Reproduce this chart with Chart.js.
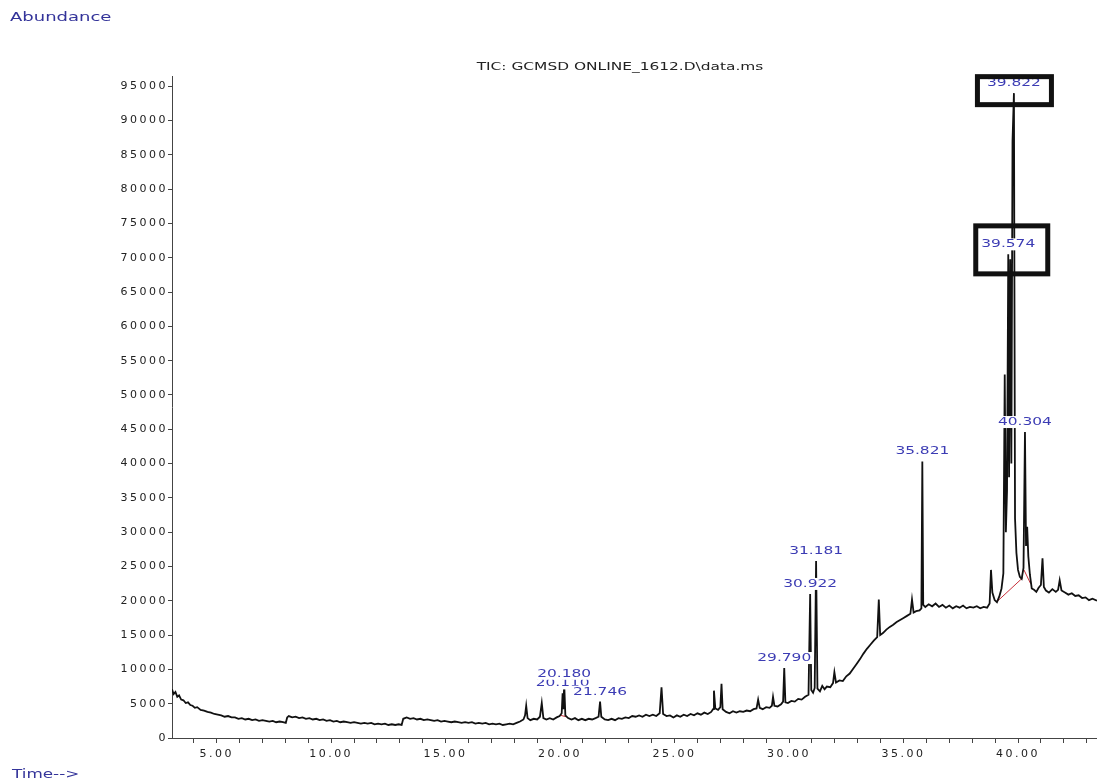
<!DOCTYPE html>
<html>
<head>
<meta charset="utf-8">
<script src="https://cdn.jsdelivr.net/npm/chart.js@4.4.1/dist/chart.umd.min.js"></script>
<style>
  html, body { margin: 0; padding: 0; background: #fff; }
</style>
</head>
<body>
<canvas id="tic" width="1097" height="784"></canvas>
<script>
// retention time (min) and abundance
const times = [
  3.05,3.12,3.2,3.28,3.36,3.45,3.55,3.65,3.75,3.85,
  3.95,4.05,4.15,4.3,4.45,4.6,4.75,4.9,5.05,5.2,
  5.35,5.5,5.65,5.8,5.95,6.1,6.25,6.4,6.55,6.7,
  6.85,7.0,7.15,7.3,7.45,7.6,7.75,7.9,8.02,8.08,
  8.15,8.3,8.45,8.6,8.75,8.9,9.05,9.2,9.35,9.5,
  9.65,9.8,9.95,10.1,10.25,10.4,10.55,10.7,10.85,11.0,
  11.15,11.3,11.45,11.6,11.75,11.9,12.05,12.2,12.35,12.5,
  12.65,12.8,12.95,13.08,13.15,13.3,13.45,13.6,13.75,13.9,
  14.05,14.2,14.35,14.5,14.65,14.8,14.95,15.1,15.25,15.4,
  15.55,15.7,15.85,16.0,16.15,16.3,16.45,16.6,16.75,16.9,
  17.05,17.2,17.35,17.5,17.65,17.8,17.95,18.1,18.25,18.4,
  18.47,18.52,18.58,18.7,18.85,19.0,19.12,19.2,19.27,19.4,
  19.55,19.7,19.85,19.98,20.07,20.11,20.14,20.18,20.23,20.35,
  20.5,20.65,20.8,20.95,21.1,21.25,21.4,21.55,21.68,21.746,
  21.8,21.95,22.1,22.25,22.4,22.55,22.7,22.85,23.0,23.15,
  23.3,23.45,23.6,23.75,23.9,24.05,24.2,24.35,24.43,24.5,
  24.65,24.8,24.95,25.1,25.25,25.4,25.55,25.7,25.85,26.0,
  26.15,26.3,26.45,26.6,26.68,26.72,26.78,26.9,27.0,27.05,
  27.1,27.25,27.4,27.55,27.7,27.85,28.0,28.15,28.3,28.45,
  28.58,28.65,28.72,28.85,29.0,29.15,29.25,29.3,29.36,29.5,
  29.65,29.74,29.79,29.84,29.95,30.1,30.25,30.4,30.55,30.7,
  30.85,30.922,30.97,31.05,31.12,31.181,31.24,31.35,31.45,31.55,
  31.65,31.8,31.92,31.98,32.05,32.2,32.35,32.5,32.65,32.8,
  32.95,33.1,33.25,33.4,33.55,33.7,33.85,33.92,33.98,34.1,
  34.25,34.4,34.55,34.7,34.85,35.0,35.15,35.3,35.37,35.44,
  35.55,35.7,35.78,35.821,35.86,35.95,36.1,36.25,36.4,36.55,
  36.7,36.85,37.0,37.15,37.3,37.45,37.6,37.75,37.9,38.05,
  38.2,38.35,38.5,38.65,38.76,38.82,38.88,38.98,39.08,39.18,
  39.28,39.36,39.42,39.47,39.52,39.574,39.61,39.66,39.71,39.76,
  39.822,39.87,39.93,40.0,40.08,40.16,40.24,40.304,40.35,40.4,
  40.45,40.52,40.6,40.7,40.8,40.9,41.0,41.07,41.13,41.22,
  41.35,41.5,41.65,41.75,41.82,41.9,42.05,42.2,42.35,42.5,
  42.65,42.8,42.95,43.1,43.25,43.45
];
const abundance = [
  7100,6400,6700,6000,6200,5600,5500,5100,5200,4800,
  4700,4400,4500,4100,4000,3800,3700,3500,3400,3300,
  3100,3200,3000,3000,2800,2900,2700,2800,2600,2700,
  2500,2600,2500,2400,2500,2300,2400,2300,2200,3000,
  3200,3000,3100,2900,3000,2800,2900,2700,2800,2600,
  2700,2500,2600,2400,2500,2300,2400,2300,2200,2300,
  2200,2100,2200,2100,2200,2000,2100,2000,2100,1900,
  2000,1900,2000,1900,2800,3000,2800,2900,2700,2800,
  2600,2700,2600,2500,2600,2400,2500,2400,2300,2400,
  2300,2200,2300,2200,2300,2100,2200,2100,2200,2000,
  2100,2000,2100,1900,2000,2100,2000,2200,2400,2700,
  3300,4700,2900,2600,2800,2700,3100,5100,2900,2700,
  2900,2700,3000,3200,3600,6500,4200,7900,3300,2900,
  2700,2900,2600,2800,2600,2800,2700,2900,3100,5300,
  3100,2700,2600,2800,2600,2900,2800,3000,2900,3200,
  3100,3300,3100,3400,3200,3400,3200,3600,7400,3500,
  3200,3300,3000,3300,3100,3400,3200,3500,3300,3600,
  3400,3700,3500,3800,4200,6900,4300,4100,4500,7900,
  4200,3800,3600,3900,3700,3900,3800,4000,3900,4200,
  4300,5600,4400,4200,4500,4400,4700,6000,4700,4600,
  4900,5300,10200,5200,5100,5400,5300,5700,5600,6000,
  6300,21000,7000,6600,7300,25800,7200,6800,7600,7100,
  7500,7400,8000,9600,8100,8400,8300,9000,9400,10100,
  10800,11500,12300,13000,13600,14200,14700,20200,15000,15300,
  15800,16200,16500,16900,17200,17500,17800,18100,20200,18300,
  18500,18600,18900,40300,19400,19100,19500,19200,19600,19100,
  19400,19000,19300,18900,19200,19000,19300,18900,19100,19000,
  19200,18900,19100,19000,19600,24500,21200,20100,19800,20600,
  21800,24000,53000,30000,36000,70500,38000,69800,40000,87000,
  94000,32000,27000,24500,23500,23200,24800,44600,28000,30800,
  26500,23800,21800,21600,21300,21900,22300,26200,22000,21500,
  21200,21700,21300,21600,23000,21500,21200,20900,21100,20700,
  20800,20400,20500,20100,20300,20000
];

// integration baselines (red), as start/end pairs
const redTimes  = [20.03, 20.26, 39.12, 40.22, 40.26, 40.55];
const redValues = [3300, 3100, 20000, 23400, 24500, 22500];

// annotated peaks
const labelTimes = [20.11, 20.18, 21.746, 29.79, 30.922, 31.181, 35.821, 39.574, 39.822, 40.304];
const labelTexts = ["20.110", "20.180", "21.746", "29.790", "30.922", "31.181", "35.821", "39.574", "39.822", "40.304"];
const boxedLabels = ["39.822", "39.574"];

// axes
const xMin = 3.05, xMax = 43.45, xMinorStep = 1, xMajorStep = 5;
const yMax = 96500;
const yTicks = [0, 5000, 10000, 15000, 20000, 25000, 30000, 35000, 40000, 45000,
  50000, 55000, 60000, 65000, 70000, 75000, 80000, 85000, 90000, 95000];

const titleText = "TIC: GCMSD ONLINE_1612.D\\data.ms";

Chart.defaults.font.family = '"DejaVu Sans"';

function nearestIndex(t) {
  let best = 0;
  times.forEach((v, i) => { if (Math.abs(v - t) < Math.abs(times[best] - t)) best = i; });
  return best;
}

function wideText(ctx, text, x, y, opts) {
  ctx.save();
  ctx.letterSpacing = "0px";
  ctx.font = opts.font;
  ctx.textBaseline = "middle";
  ctx.translate(x, y);
  ctx.scale(opts.sx, 1);
  ctx.textAlign = opts.align || "center";
  if (opts.bg) {
    const w = ctx.measureText(text).width;
    ctx.fillStyle = "#fff";
    ctx.fillRect(-w / 2 - 1, -6, w + 2, 12);
  }
  ctx.fillStyle = opts.color;
  ctx.fillText(text, 0, 0);
  ctx.restore();
}

const spacing = {
  id: "spacing",
  beforeLayout(chart) { chart.ctx.letterSpacing = "2.5px"; },
  beforeDraw(chart) { chart.ctx.letterSpacing = "2.5px"; }
};

const peakLabels = {
  id: "peakLabels",
  afterDatasetsDraw(chart) {
    const { ctx, scales: { x, y } } = chart;
    labelTimes.forEach((t, i) => {
      const top = abundance[nearestIndex(t)];
      const px = x.getPixelForValue(t);
      const py = y.getPixelForValue(top) - 10;
      wideText(ctx, labelTexts[i], px, py, { font: '11px "DejaVu Sans"', sx: 1.4, color: "#3c3cb4", bg: true });
      const b = boxedLabels.indexOf(labelTexts[i]);
      if (b >= 0) {
        ctx.save();
        ctx.lineWidth = 5;
        ctx.strokeStyle = "#111";
        if (b === 0) ctx.strokeRect(px - 39 + 2.5, py - 9 + 2.5, 79 - 5, 33 - 5);
        else ctx.strokeRect(px - 35 + 2.5, py - 21 + 2.5, 77 - 5, 53 - 5);
        ctx.restore();
      }
    });
  },
  afterDraw(chart) {
    const ctx = chart.ctx;
    wideText(ctx, "Abundance", 10, 18, { font: '12px "DejaVu Sans"', sx: 1.5, color: "#34349a", align: "left" });
    wideText(ctx, "Time-->", 12, 775, { font: '12px "DejaVu Sans"', sx: 1.4, color: "#34349a", align: "left" });
    wideText(ctx, titleText, 620, 67, { font: '11px "DejaVu Sans"', sx: 1.4, color: "#222" });
  }
};

const redData = [];
for (let i = 0; i < redTimes.length; i += 2) {
  redData.push({ x: redTimes[i], y: redValues[i] });
  redData.push({ x: redTimes[i + 1], y: redValues[i + 1] });
  redData.push({ x: redTimes[i + 1] + 0.001, y: null });
}

new Chart(document.getElementById("tic"), {
  type: "line",
  data: {
    datasets: [
      {
        data: times.map((t, i) => ({ x: t, y: abundance[i] })),
        borderColor: "#111",
        borderWidth: 1.8,
        pointRadius: 0,
        tension: 0
      },
      {
        data: redData,
        borderColor: "#c8303a",
        borderWidth: 1,
        pointRadius: 0,
        spanGaps: false
      }
    ]
  },
  options: {
    responsive: false,
    animation: false,
    devicePixelRatio: 1,
    layout: { padding: { top: 76, right: 0, bottom: 0, left: 0 } },
    plugins: { legend: { display: false }, tooltip: { enabled: false } },
    scales: {
      x: {
        type: "linear",
        min: xMin,
        max: xMax,
        afterFit: (s) => { s.height = 46; },
        border: { color: "#444", width: 1 },
        grid: { drawOnChartArea: false, tickLength: 5, color: "#444" },
        ticks: {
          stepSize: xMinorStep,
          includeBounds: false,
          autoSkip: false,
          maxRotation: 0,
          padding: 5,
          color: "#222",
          font: { size: 11 },
          callback: (v) => (v % xMajorStep === 0 ? v.toFixed(2) : "")
        }
      },
      y: {
        min: 0,
        max: yMax,
        afterFit: (s) => { s.width = 172; },
        afterBuildTicks: (s) => { s.ticks = yTicks.map((v) => ({ value: v })); },
        border: { color: "#444", width: 1 },
        grid: { drawOnChartArea: false, tickLength: 4, color: "#444" },
        ticks: {
          autoSkip: false,
          padding: 0,
          color: "#222",
          font: { size: 11 },
          callback: (v) => String(v)
        }
      }
    }
  },
  plugins: [spacing, peakLabels]
});
</script>
</body>
</html>
